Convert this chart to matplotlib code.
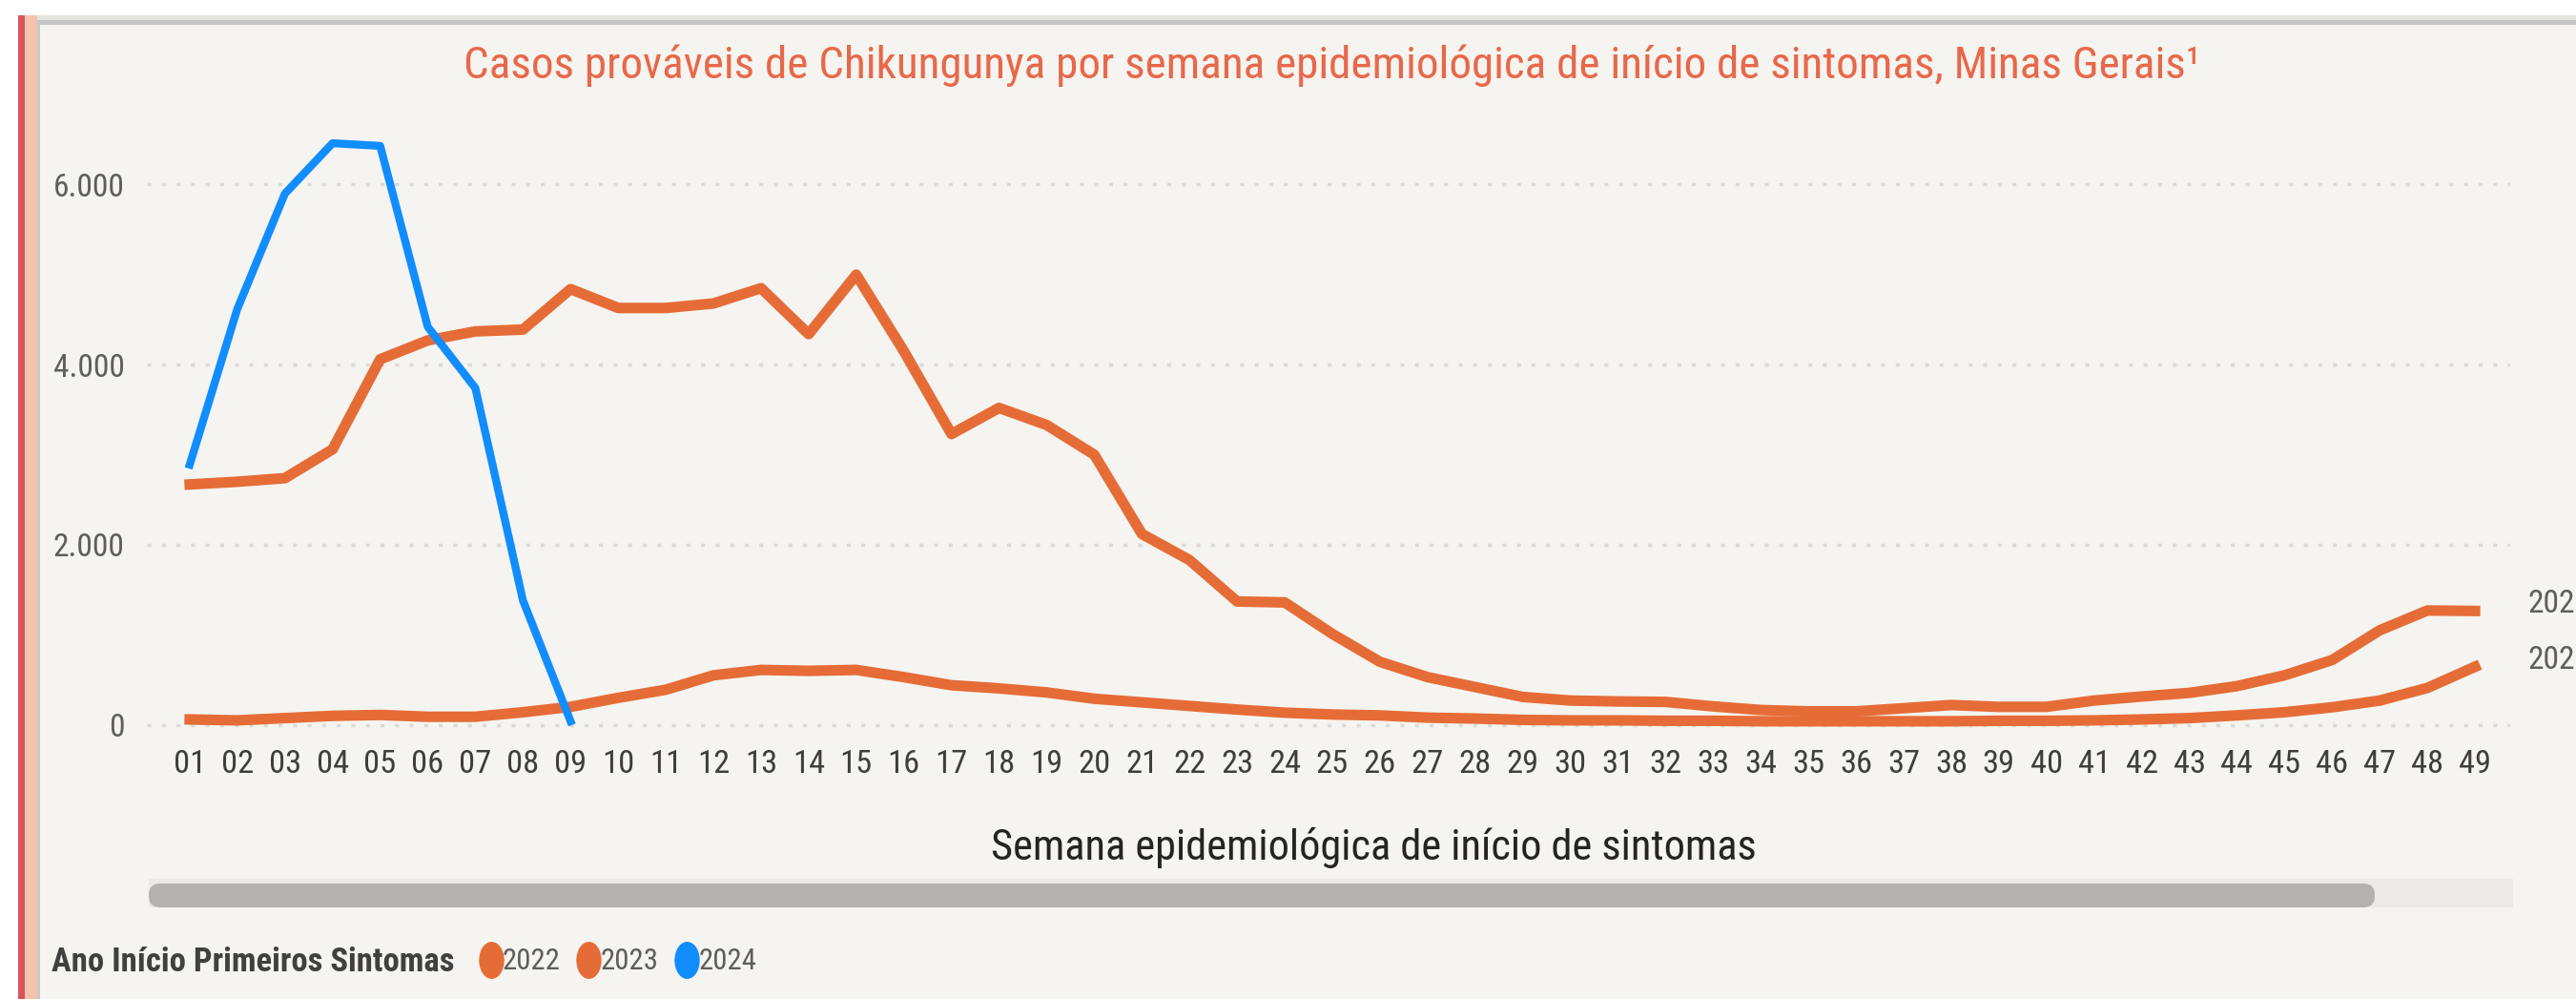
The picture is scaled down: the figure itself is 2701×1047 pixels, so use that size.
import os
import matplotlib.pyplot as plt
from matplotlib import font_manager
from matplotlib.font_manager import FontProperties
from matplotlib.patches import Rectangle, FancyBboxPatch
from matplotlib.lines import Line2D
from matplotlib.path import Path
from matplotlib.transforms import Affine2D

W, H, DPI = 2701, 1047, 100

# dados (casos prováveis por semana epidemiológica)
semanas = [f"{i:02d}" for i in range(1, 50)]

casos_2022 = [60, 50, 75, 100, 110, 90, 90, 140, 200, 300, 390, 550, 610, 600,
              610, 530, 440, 405, 360, 290, 250, 210, 170, 135, 115, 105, 80, 70, 55,
              50, 50, 45, 45, 40, 40, 40, 40, 40, 45, 45, 50, 60, 75, 105, 140, 195,
              270, 410, 645]
casos_2023 = [2670, 2700, 2740, 3060, 4060, 4270, 4370, 4390, 4840, 4630, 4630, 4680, 4850, 4340,
              5000, 4150, 3230, 3520, 3330, 3000, 2120, 1830, 1370, 1360, 1010, 700, 530, 420, 310,
              270, 260, 255, 205, 165, 150, 150, 185, 220, 200, 200, 270, 315, 355, 430, 550, 720,
              1050, 1270, 1265]
casos_2024 = [2890, 4620, 5900, 6460, 6430, 4420, 3740, 1380, 40]

anos = ['2022', '2023', '2024']
y_ticks = [0, 2000, 4000, 6000]

TITULO = 'Casos prováveis de Chikungunya por semana epidemiológica de início de sintomas, Minas Gerais¹'
XLABEL = 'Semana epidemiológica de início de sintomas'
LEGENDA = 'Ano Início Primeiros Sintomas'

LARANJA = '#E66C37'
AZUL = '#118DFF'
FUNDO = '#F5F4F0'
CINZA_TXT = '#605E5C'

# fonte estreita, se houver alguma instalada
arquivos = {os.path.basename(f.fname): f.fname for f in font_manager.fontManager.ttflist}
REG = ['LiberationSansNarrow-Regular.ttf', 'RobotoCondensed-Regular.ttf',
       'NotoSans-Condensed.ttf', 'DejaVuSansCondensed.ttf', 'NotoSans-SemiCondensed.ttf']
BOLD = ['LiberationSansNarrow-Bold.ttf', 'RobotoCondensed-Bold.ttf',
        'NotoSans-CondensedBold.ttf', 'DejaVuSansCondensed-Bold.ttf',
        'NotoSans-SemiCondensedBold.ttf']


def escolhe(lista, padrao):
    for nome in lista:
        if nome in arquivos:
            return FontProperties(fname=arquivos[nome])
    return FontProperties(family='Liberation Sans', weight=padrao)


fp_reg = escolhe(REG, 'normal')
fp_bold = escolhe(BOLD, 'bold')

fig = plt.figure(figsize=(W / DPI, H / DPI), dpi=DPI, facecolor='white')
renderer = fig.canvas.get_renderer()


def tamanho(texto, largura_px, fp):
    # tamanho de fonte que dá a largura medida na referência
    p = fp.copy()
    p.set_size(20)
    w, _, _ = renderer.get_text_width_height_descent(texto, p, ismath=False)
    return 20 * largura_px / w


def fonte(texto, largura_px, fp):
    p = fp.copy()
    p.set_size(tamanho(texto, largura_px, fp))
    return p


def fx(px):
    return px / W


def fy(py):
    return 1 - py / H


def faixa(x0, y0, x1, y1, cor):
    fig.add_artist(Rectangle((fx(x0), fy(y1)), fx(x1) - fx(x0), fy(y0) - fy(y1),
                             transform=fig.transFigure, facecolor=cor,
                             edgecolor='none', zorder=-2))


# moldura do painel (estilo Power BI)
faixa(42, 26, W, H, FUNDO)
faixa(39, 16, W, 21, '#E6E4E0')
faixa(39, 21, W, 26, '#C4C4C4')
faixa(19, 16, 26, H, '#D9545A')
faixa(26, 16, 39, H, '#F3C3AC')
faixa(39, 21, 42, H, '#C8C8C8')

# barra de rolagem
faixa(156, 921, 2635, 951, '#EBEAE8')
fig.add_artist(FancyBboxPatch((156 / DPI, (H - 951) / DPI), (2490 - 156) / DPI, 25 / DPI,
                              boxstyle='round,pad=0,rounding_size=0.12',
                              transform=fig.dpi_scale_trans, facecolor='#B3B2B0',
                              edgecolor='none', zorder=-1))

ax = fig.add_axes([fx(154), fy(771), fx(2632) - fx(154), fy(118) - fy(771)])
ax.set_facecolor('none')

x = list(range(1, len(semanas) + 1))
ax.plot(x, casos_2022, color=LARANJA, lw=8, solid_joinstyle='round', clip_on=False, zorder=3)
ax.plot(x, casos_2023, color=LARANJA, lw=8, solid_joinstyle='round', clip_on=False, zorder=3)
ax.plot(x[:len(casos_2024)], casos_2024, color=AZUL, lw=6, solid_joinstyle='round',
        clip_on=False, zorder=4)

fp_x = fonte('01', 34, fp_reg)
fp_y = fonte('6.000', 75, fp_reg)

ax.set_xlim(0.1, 49.74)
ax.set_ylim(-120, 6800)
ax.set_xticks(x)
ax.set_xticklabels(semanas, fontproperties=fp_x, color='#3E3E3E')
ax.set_yticks(y_ticks)
ax.set_yticklabels([f"{v:,}".replace(',', '.') for v in y_ticks], fontproperties=fp_y,
                   color=CINZA_TXT)
ax.tick_params(axis='x', length=0, pad=10)
ax.tick_params(axis='y', length=0, pad=17)
ax.grid(axis='y', color='#DCDAD6', lw=2.5, linestyle=(0, (1.2, 3.2)))
ax.set_axisbelow(True)
for s in ax.spines.values():
    s.set_visible(False)

# rótulos no fim das séries
for rot, serie in [('2023', casos_2023), ('2022', casos_2022)]:
    ax.annotate(rot, xy=(49, serie[-1]), xytext=(40, 5), textcoords='offset points',
                ha='left', va='center', fontproperties=fp_y, color=CINZA_TXT,
                annotation_clip=False)

fig.text(fx(1397), fy(69), TITULO, ha='center', va='center', color='#E8684A',
         fontproperties=fonte(TITULO, 1821, fp_reg))
fig.text(fx(1440), fy(889), XLABEL, ha='center', va='center', color='#252423',
         fontproperties=fonte(XLABEL, 802, fp_reg))

# legenda
fig.text(fx(54), fy(1008), LEGENDA, ha='left', va='center', color='#404040',
         fontproperties=fonte(LEGENDA, 421, fp_bold))
elipse = Path.unit_circle().transformed(Affine2D().scale(1, 1.5))
handles = [Line2D([], [], ls='none', marker=elipse, markersize=27, color=c)
           for c in [LARANJA, LARANJA, AZUL]]
fp_leg = fonte('2022', 61, fp_reg)
fig.legend(handles, anos, loc='center left', bbox_to_anchor=(fx(490), fy(1008)),
           ncol=3, frameon=False, prop=fp_leg, handlelength=0.6, handletextpad=0.1,
           columnspacing=0.65, borderpad=0, labelcolor=CINZA_TXT)

fig.savefig('out.png', dpi=DPI, facecolor='white')
